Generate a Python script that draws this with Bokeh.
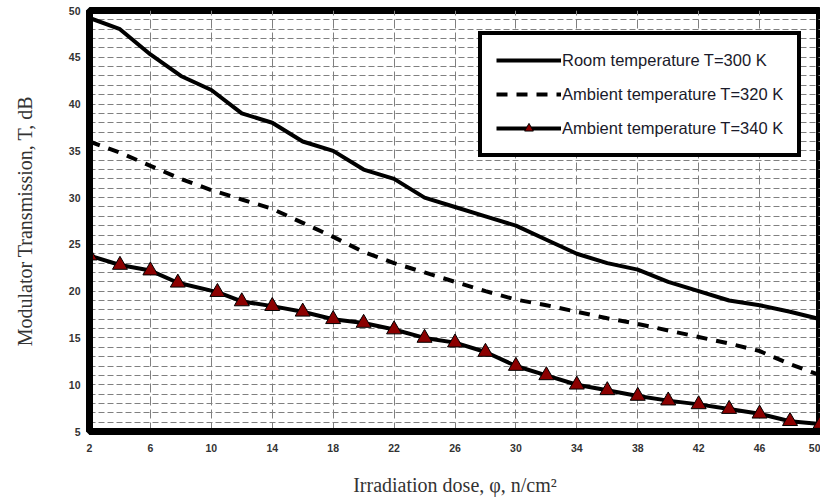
from bokeh.plotting import figure
from bokeh.models import Range1d, FixedTicker, Legend, LegendItem
from bokeh.embed import file_html
from bokeh.resources import INLINE

# Data
x_dose = [2, 4, 6, 8, 10, 12, 14, 16, 18, 20, 22, 24, 26, 28, 30, 32, 34, 36, 38, 40, 42, 44, 46, 48, 50]
t_300 = [49.2, 48.0, 45.3, 43.0, 41.5, 39.0, 38.0, 36.0, 35.0, 33.0, 32.0, 30.0, 29.0,
         28.0, 27.0, 25.5, 24.0, 23.0, 22.3, 21.0, 20.0, 19.0, 18.5, 17.8, 17.0]
t_320 = [36.0, 34.8, 33.4, 32.0, 30.8, 29.8, 28.8, 27.3, 25.8, 24.2, 23.0, 22.0, 21.0,
         20.0, 19.1, 18.5, 17.8, 17.1, 16.5, 15.8, 15.1, 14.4, 13.6, 12.2, 11.0]
x_340 = [2, 4, 6, 7.8, 10.4, 12, 14, 16, 18, 20, 22, 24, 26, 28, 30, 32, 34, 36, 38, 40, 42, 44, 46, 48, 50]
t_340 = [23.8, 22.8, 22.2, 20.9, 19.9, 18.9, 18.4, 17.8, 17.0, 16.6, 15.9, 15.0, 14.5,
         13.5, 12.0, 11.0, 10.0, 9.4, 8.8, 8.3, 7.9, 7.4, 6.9, 6.1, 5.8]

x_ticks = [2, 6, 10, 14, 18, 22, 26, 30, 34, 38, 42, 46, 50]
y_ticks = [5, 10, 15, 20, 25, 30, 35, 40, 45, 50]
y_grid = list(range(5, 51))

labels = ["Room temperature T=300 K", "Ambient temperature T=320 K", "Ambient temperature T=340 K"]

p = figure(width=820, height=500, output_backend="svg", toolbar_location=None,
           x_range=Range1d(2, 50), y_range=Range1d(5, 50),
           min_border_left=89, min_border_right=0, min_border_top=10, min_border_bottom=69)

p.outline_line_color = "black"
p.outline_line_width = 7
p.outline_line_alpha = 1

for ax in (p.xaxis[0], p.yaxis[0]):
    ax.axis_line_color = "black"
    ax.axis_line_width = 7
    ax.major_tick_line_color = None
    ax.minor_tick_line_color = None
    ax.major_tick_out = 0
    ax.major_tick_in = 0
    ax.major_label_text_font = "Liberation Sans"
    ax.major_label_text_font_size = "10.5px"
    ax.major_label_text_font_style = "bold"
    ax.major_label_text_color = "#333333"
    ax.axis_label_text_font = "Liberation Serif"
    ax.axis_label_text_font_size = "20px"
    ax.axis_label_text_font_style = "normal"
    ax.axis_label_text_color = "#333333"

p.xaxis.ticker = FixedTicker(ticks=x_ticks)
p.yaxis.ticker = FixedTicker(ticks=y_ticks)
p.xaxis.major_label_standoff = 12
p.yaxis.major_label_standoff = 9
p.xaxis.axis_label = "Irradiation dose, \u03c6, n/cm\u00b2"
p.yaxis.axis_label = "Modulator Transmission, T, dB"
p.xaxis.axis_label_standoff = 19
p.yaxis.axis_label_standoff = 30

p.xgrid.ticker = FixedTicker(ticks=x_ticks)
p.ygrid.ticker = FixedTicker(ticks=y_grid)
p.xgrid.grid_line_color = "#808080"
p.xgrid.grid_line_dash = "9 4"
p.xgrid.grid_line_width = 1
p.ygrid.grid_line_color = "#808080"
p.ygrid.grid_line_dash = "6 3"
p.ygrid.grid_line_width = 1

r1 = p.line(x_dose, t_300, line_color="black", line_width=4, line_join="round")
r2 = p.line(x_dose, t_320, line_color="black", line_width=4, line_dash="11 9")
r3 = p.line(x_340, t_340, line_color="black", line_width=4, line_join="round")
r3m = p.scatter(x_340, t_340, marker="triangle", size=15, fill_color="#8b0000",
                line_color="black", line_width=1)

legend = Legend(items=[LegendItem(label=labels[0], renderers=[r1]),
                       LegendItem(label=labels[1], renderers=[r2]),
                       LegendItem(label=labels[2], renderers=[r3, r3m])],
                location=(389, 274))
legend.border_line_color = "black"
legend.border_line_width = 4
legend.border_line_alpha = 1
legend.background_fill_color = "white"
legend.background_fill_alpha = 1
legend.glyph_width = 65
legend.glyph_height = 22
legend.label_standoff = 1
legend.padding = 14
legend.spacing = 12
legend.margin = 0
legend.label_text_font = "Liberation Sans"
legend.label_text_font_size = "16.5px"
legend.label_text_color = "#1a1a2a"
p.add_layout(legend, "center")

open("out.html", "w").write(file_html(p, INLINE))
